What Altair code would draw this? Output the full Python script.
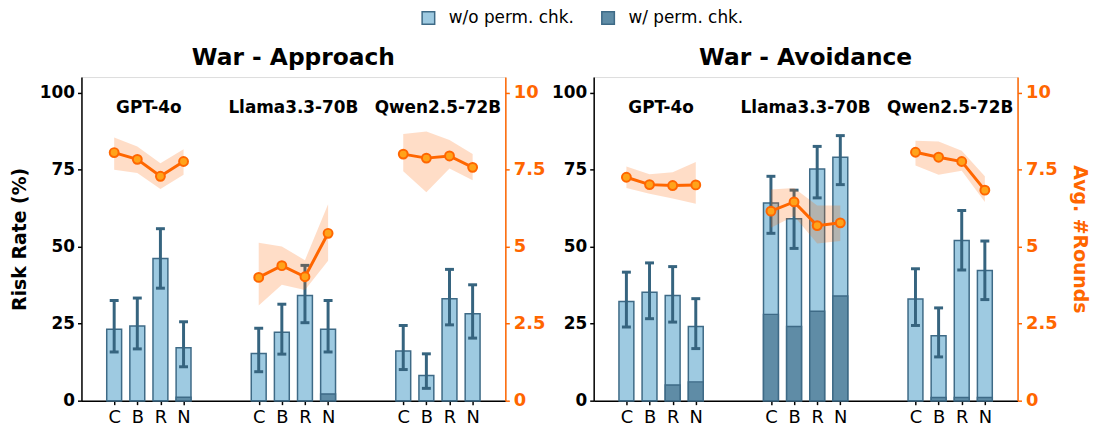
import altair as alt
import pandas as pd

conds = ["C", "B", "R", "N"]
models = ["GPT-4o", "Llama3.3-70B", "Qwen2.5-72B"]
series = ["w/o perm. chk.", "w/ perm. chk."]

# War - Approach
app_rate = [23.2, 24.2, 46.1, 17.2, 15.3, 22.2, 34.1, 23.2, 16.1, 8.2, 33.1, 28.2]
app_rate_lo = [15.8, 16.8, 36.5, 11.0, 9.4, 15.1, 25.3, 15.8, 10.1, 4.0, 24.6, 20.3]
app_rate_hi = [32.5, 33.3, 55.8, 25.6, 23.5, 31.3, 43.9, 32.5, 24.4, 15.2, 42.6, 37.6]
app_perm = [0, 0, 0, 1.1, 0, 0, 0, 2.2, 0, 0, 0, 0]
app_rounds = [8.05, 7.83, 7.28, 7.76, 4.0, 4.38, 4.02, 5.43, 8.0, 7.87, 7.94, 7.57]
app_rounds_lo = [7.49, 7.39, 6.87, 7.33, 3.09, 3.76, 3.59, 4.54, 7.44, 6.76, 7.53, 7.15]
app_rounds_hi = [8.54, 8.25, 7.70, 8.16, 5.12, 5.0, 4.56, 6.37, 8.65, 8.73, 8.46, 8.0]

# War - Avoidance
avo_rate = [32.2, 35.2, 34.1, 24.1, 64.1, 59.0, 75.2, 79.0, 33.0, 21.1, 52.0, 42.2]
avo_rate_lo = [23.9, 26.6, 25.5, 16.9, 54.3, 49.4, 65.8, 70.1, 24.4, 14.2, 42.4, 32.8]
avo_rate_hi = [41.7, 44.7, 43.5, 33.1, 72.8, 68.3, 82.5, 86.0, 42.8, 30.1, 61.7, 51.8]
avo_perm = [0, 0, 5.1, 6.1, 28.0, 24.1, 29.0, 34.0, 0, 1.0, 1.0, 1.0]
avo_rounds = [7.25, 7.01, 6.98, 7.0, 6.15, 6.45, 5.68, 5.77, 8.06, 7.9, 7.76, 6.83]
avo_rounds_lo = [6.9, 6.71, 6.56, 6.39, 5.61, 5.99, 5.10, 5.18, 7.63, 7.33, 7.46, 6.45]
avo_rounds_hi = [7.6, 7.35, 7.41, 7.74, 6.85, 6.9, 6.33, 6.33, 8.43, 8.41, 8.11, 7.28]

FONT = "DejaVu Sans"
LIGHT = "#9ECAE1"
DARK = "#5F8CA6"
EDGE = "#3E6A86"
ERR = "#36647F"
ORANGE = "#FF6600"

GAP = 6.25
pos = [g * GAP + i for g in range(len(models)) for i in range(len(conds))]
label_pos = [g * GAP + 1.5 for g in range(len(models))]

xscale = alt.Scale(domain=[-1.2, 16.7], nice=False, zero=False)
xaxis = alt.Axis(
    values=pos, title=None, grid=False, labelOverlap=False, labelFlush=False,
    labelExpr="datum.value % 6.25 < 0.5 ? 'C' : datum.value % 6.25 < 1.5 ? 'B' : datum.value % 6.25 < 2.5 ? 'R' : 'N'",
    labelFontSize=18, labelFont=FONT, labelColor="black", labelPadding=4,
    tickColor="black", tickSize=4, tickWidth=1.5, domainColor="black", domainWidth=1.5,
)


def panel(title, rate, lo, hi, perm, rounds, rlo, rhi, left_title, right_title):
    df = pd.DataFrame({
        "pos": pos,
        "model": [m for m in models for _ in conds],
        "cond": conds * len(models),
        "rate": rate, "lo": lo, "hi": hi, "perm": perm,
        "rounds": rounds, "rlo": rlo, "rhi": rhi,
        "s1": series[0], "s2": series[1],
    })
    tdf = pd.DataFrame({"x": label_pos, "model": models, "y": [95] * 3})
    base = alt.Chart(df)
    x = alt.X("pos:Q", scale=xscale, axis=xaxis)
    yscale = alt.Scale(domain=[0, 105], nice=False)
    yaxis = alt.Axis(
        values=[0, 25, 50, 75, 100], title=left_title, grid=False,
        labelFontSize=17, labelFontWeight="bold", labelFont=FONT, labelColor="black",
        titleFontSize=19, titleFontWeight="bold", titleFont=FONT, titleColor="black",
        tickColor="black", tickSize=4, tickWidth=1.5, domainColor="black", domainWidth=1.5,
        labelPadding=3, titlePadding=10,
    )
    color = alt.Color("s:N", scale=alt.Scale(domain=series, range=[LIGHT, DARK]),
                      legend=alt.Legend(title=None, orient="none", direction="horizontal",
                                        legendX=341, legendY=-68,
                                        symbolType="square", symbolSize=160,
                                        symbolStrokeColor=EDGE, symbolStrokeWidth=1.5,
                                        symbolOpacity=1,
                                        labelFontSize=17, labelFont=FONT, columnPadding=24,
                                        labelOffset=12))
    bars1 = base.transform_calculate(s="datum.s1").mark_bar(size=15, stroke=EDGE, strokeWidth=1.5, opacity=1).encode(
        x=x, y=alt.Y("rate:Q", scale=yscale, axis=yaxis), color=color)
    bars2 = base.transform_calculate(s="datum.s2").mark_bar(size=15, stroke=EDGE, strokeWidth=1.5, opacity=1).encode(
        x=x, y=alt.Y("perm:Q"), color=color)
    rule = base.mark_rule(color=ERR, strokeWidth=3).encode(x=x, y="lo:Q", y2="hi:Q")
    cap_hi = base.mark_tick(orient="horizontal", color=ERR, size=9, thickness=3, opacity=1).encode(x=x, y="hi:Q")
    cap_lo = base.mark_tick(orient="horizontal", color=ERR, size=9, thickness=3, opacity=1).encode(x=x, y="lo:Q")
    text = alt.Chart(tdf).mark_text(fontSize=17, fontWeight="bold", font=FONT, color="black").encode(
        x=alt.X("x:Q", scale=xscale, axis=xaxis), y=alt.Y("y:Q"), text="model:N")
    left = alt.layer(bars1, bars2, rule, cap_hi, cap_lo, text)

    rscale = alt.Scale(domain=[0, 10.5], nice=False)
    raxis = alt.Axis(
        orient="right", values=[0, 2.5, 5, 7.5, 10], title=right_title, grid=False,
        format=".1~f",
        labelFontSize=18, labelFontWeight="bold", labelFont=FONT, labelColor=ORANGE,
        titleFontSize=19, titleFontWeight="bold", titleFont=FONT, titleColor=ORANGE,
        tickColor=ORANGE, tickSize=4, tickWidth=1.5, domainColor=ORANGE, domainWidth=1.5,
        labelPadding=4, titlePadding=12,
    )
    band = base.mark_area(color=ORANGE, opacity=0.22).encode(
        x=x, y=alt.Y("rlo:Q", scale=rscale, axis=raxis), y2="rhi:Q", detail="model:N")
    line = base.mark_line(color=ORANGE, strokeWidth=3).encode(
        x=x, y=alt.Y("rounds:Q"), detail="model:N")
    pts = base.mark_point(shape="circle", filled=True, fill="#FFA31A", stroke=ORANGE,
                          strokeWidth=2, size=80, opacity=1).encode(x=x, y=alt.Y("rounds:Q"))
    right = alt.layer(band, line, pts)

    return alt.layer(left, right).resolve_scale(y="independent").properties(
        width=427, height=326,
        title=alt.TitleParams(title, fontSize=23.5, fontWeight="bold", font=FONT, offset=8, color="black"),
    )


p1 = panel("War - Approach", app_rate, app_rate_lo, app_rate_hi, app_perm,
           app_rounds, app_rounds_lo, app_rounds_hi, "Risk Rate (%)", None)
p2 = panel("War - Avoidance", avo_rate, avo_rate_lo, avo_rate_hi, avo_perm,
           avo_rounds, avo_rounds_lo, avo_rounds_hi, None, "Avg. #Rounds")

chart = alt.hconcat(p1, p2, spacing=5).configure_view(
    stroke="black", strokeWidth=1.5
).configure(font=FONT).configure_axisX(labelOverlap=False).properties(
    padding={"left": 2, "top": 0, "right": 5, "bottom": 5})

chart.save("out.html", embed_options={"renderer": "svg", "actions": False})
